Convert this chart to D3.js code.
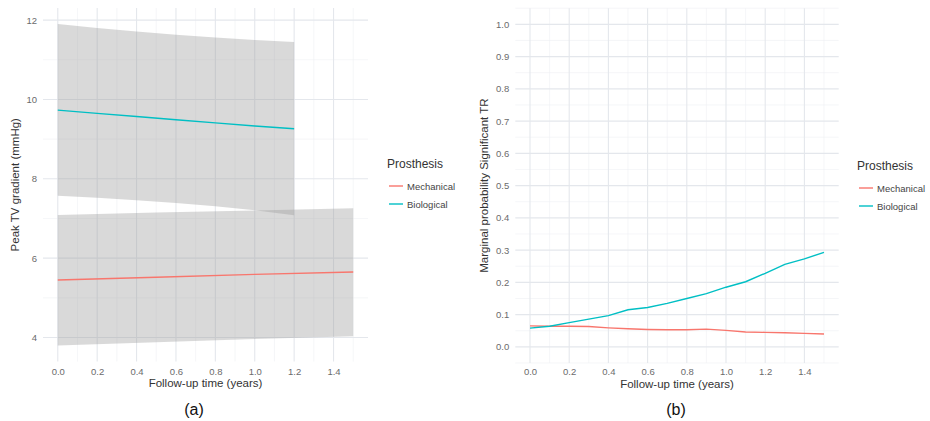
<!DOCTYPE html>
<html>
<head>
<meta charset="utf-8">
<script src="https://cdn.jsdelivr.net/npm/d3@7"></script>
<style>
  body { margin: 0; background: #fff; }
  svg { font-family: "Liberation Sans", Arial, sans-serif; }
</style>
</head>
<body>
<div id="chart"></div>
<script>
// ---- data ----
// panel (a): fitted peak TV gradient with 95% band
const timeMech = [0, 0.5, 1.0, 1.5];
const mechFit = [5.45, 5.52, 5.59, 5.65];
const mechLow = [3.80, 3.88, 3.96, 4.03];
const mechHigh = [7.09, 7.15, 7.20, 7.26];

const timeBio = [0, 0.2, 0.4, 0.6, 0.8, 1.0, 1.2];
const bioFit = [9.73, 9.65, 9.57, 9.49, 9.41, 9.33, 9.26];
const bioLow = [7.57, 7.52, 7.46, 7.39, 7.31, 7.21, 7.08];
const bioHigh = [11.90, 11.80, 11.71, 11.63, 11.56, 11.50, 11.45];

// panel (b): marginal probability of significant TR
const timeProb = [0, 0.1, 0.2, 0.3, 0.4, 0.5, 0.6, 0.7, 0.8, 0.9, 1.0, 1.1, 1.2, 1.3, 1.4, 1.5];
const probMech = [0.065, 0.064, 0.064, 0.063, 0.059, 0.056, 0.054, 0.053, 0.053, 0.055, 0.051, 0.046, 0.045, 0.044, 0.042, 0.040];
const probBio = [0.058, 0.064, 0.075, 0.086, 0.097, 0.115, 0.122, 0.135, 0.150, 0.165, 0.185, 0.202, 0.228, 0.256, 0.273, 0.293];

const xTicks = [0, 0.2, 0.4, 0.6, 0.8, 1.0, 1.2, 1.4];
const xMinor = [0.1, 0.3, 0.5, 0.7, 0.9, 1.1, 1.3, 1.5];
const yTicksA = [4, 6, 8, 10, 12];
const yMinorA = [5, 7, 9, 11];
const yTicksB = [0, 0.1, 0.2, 0.3, 0.4, 0.5, 0.6, 0.7, 0.8, 0.9, 1.0];
const yMinorB = [-0.05, 0.05, 0.15, 0.25, 0.35, 0.45, 0.55, 0.65, 0.75, 0.85, 0.95, 1.05];

const groups = ["Mechanical", "Biological"];
const colors = { Mechanical: "#F8766D", Biological: "#00BFC4" };

const width = 930;
const height = 421;

const svg = d3.select("#chart")
              .append("svg")
              .attr("width", width)
              .attr("height", height)

// draws the grid of one panel
function grid(g, x, y, majX, minX, majY, minY) {
    const [x0, x1] = x.range();
    const [y0, y1] = y.range();
    g.append("g").selectAll("line")
        .data(minY).join("line")
        .attr("x1", x0).attr("x2", x1)
        .attr("y1", d => y(d)).attr("y2", d => y(d))
        .attr("stroke", "#eef0f3").attr("stroke-width", 0.6)
    g.append("g").selectAll("line")
        .data(minX).join("line")
        .attr("y1", y0).attr("y2", y1)
        .attr("x1", d => x(d)).attr("x2", d => x(d))
        .attr("stroke", "#eef0f3").attr("stroke-width", 0.6)
    g.append("g").selectAll("line")
        .data(majY).join("line")
        .attr("x1", x0).attr("x2", x1)
        .attr("y1", d => y(d)).attr("y2", d => y(d))
        .attr("stroke", "#e4e7ec").attr("stroke-width", 1.1)
    g.append("g").selectAll("line")
        .data(majX).join("line")
        .attr("y1", y0).attr("y2", y1)
        .attr("x1", d => x(d)).attr("x2", d => x(d))
        .attr("stroke", "#e4e7ec").attr("stroke-width", 1.1)
}

// axes without lines, ggplot minimal style
function axes(g, x, y, yt, yfmt, xpad) {
    const ax = g.append("g")
        .attr("transform", `translate(0, ${y.range()[0]})`)
        .call(d3.axisBottom(x).tickValues(xTicks).tickFormat(d3.format(".1f")).tickSize(0).tickPadding(xpad))
    const ay = g.append("g")
        .attr("transform", `translate(${x.range()[0]}, 0)`)
        .call(d3.axisLeft(y).tickValues(yt).tickFormat(yfmt).tickSize(0).tickPadding(6))
    for (const a of [ax, ay]) {
        a.select(".domain").remove()
        a.selectAll("text")
            .attr("font-size", 9.5)
            .attr("fill", "#6b6b6b")
            .attr("font-family", "Liberation Sans, Arial, sans-serif")
    }
}

function legend(g, lx, ly) {
    g.append("text")
        .attr("x", lx).attr("y", ly)
        .attr("font-size", 12)
        .attr("fill", "#333")
        .text("Prosthesis")
    groups.forEach((k, i) => {
        const yy = ly + 18 + i * 18;
        g.append("line")
            .attr("x1", lx + 2).attr("x2", lx + 16)
            .attr("y1", yy).attr("y2", yy)
            .attr("stroke", colors[k]).attr("stroke-width", 1.4)
        g.append("text")
            .attr("x", lx + 20).attr("y", yy + 3.5)
            .attr("font-size", 9.5)
            .attr("fill", "#444")
            .text(k)
    })
}

// ---- panel (a) ----
const xa = d3.scaleLinear().domain([-0.075, 1.575]).range([43, 368]);
const ya = d3.scaleLinear().domain([3.395, 12.305]).range([361.5, 8]);
const ga = svg.append("g");
grid(ga, xa, ya, xTicks, xMinor, yTicksA, yMinorA);

const band = (t, lo, hi) => d3.area()
    .x((d, i) => xa(t[i]))
    .y0((d, i) => ya(lo[i]))
    .y1((d, i) => ya(hi[i]))(t);
const fitLine = (t, v) => d3.line()
    .x((d, i) => xa(t[i]))
    .y((d, i) => ya(v[i]))(t);

ga.append("path").attr("d", band(timeMech, mechLow, mechHigh))
    .attr("fill", "#9a9a9a").attr("opacity", 0.38)
ga.append("path").attr("d", band(timeBio, bioLow, bioHigh))
    .attr("fill", "#9a9a9a").attr("opacity", 0.38)
ga.append("path").attr("d", fitLine(timeMech, mechFit))
    .attr("fill", "none").attr("stroke", colors.Mechanical).attr("stroke-width", 1.4)
ga.append("path").attr("d", fitLine(timeBio, bioFit))
    .attr("fill", "none").attr("stroke", colors.Biological).attr("stroke-width", 1.4)

axes(ga, xa, ya, yTicksA, d3.format("d"), 6.3);

ga.append("text")
    .attr("x", (43 + 368) / 2).attr("y", 387)
    .attr("text-anchor", "middle").attr("font-size", 11.5).attr("fill", "#333")
    .text("Follow-up time (years)")
ga.append("text")
    .attr("transform", `translate(19, ${(8 + 361.5) / 2}) rotate(-90)`)
    .attr("text-anchor", "middle").attr("font-size", 11.5).attr("fill", "#333")
    .text("Peak TV gradient (mmHg)")
ga.append("text")
    .attr("x", 194).attr("y", 415)
    .attr("text-anchor", "middle").attr("font-size", 16).attr("fill", "#111")
    .text("(a)")
legend(ga, 387, 168);

// ---- panel (b) ----
const xb = d3.scaleLinear().domain([-0.075, 1.575]).range([515.3, 838.7]);
const yb = d3.scaleLinear().domain([-0.05, 1.05]).range([363, 8.2]);
const gb = svg.append("g");
grid(gb, xb, yb, xTicks, xMinor, yTicksB, yMinorB);

const probLine = v => d3.line()
    .x((d, i) => xb(timeProb[i]))
    .y((d, i) => yb(v[i]))(timeProb);

gb.append("path").attr("d", probLine(probMech))
    .attr("fill", "none").attr("stroke", colors.Mechanical).attr("stroke-width", 1.4)
gb.append("path").attr("d", probLine(probBio))
    .attr("fill", "none").attr("stroke", colors.Biological).attr("stroke-width", 1.4)

axes(gb, xb, yb, yTicksB, d3.format(".1f"), 5.5);

gb.append("text")
    .attr("x", (515.3 + 838.7) / 2).attr("y", 388)
    .attr("text-anchor", "middle").attr("font-size", 11.5).attr("fill", "#333")
    .text("Follow-up time (years)")
gb.append("text")
    .attr("transform", `translate(488, ${(8.2 + 363) / 2}) rotate(-90)`)
    .attr("text-anchor", "middle").attr("font-size", 11.5).attr("fill", "#333")
    .text("Marginal probability Significant TR")
gb.append("text")
    .attr("x", 676).attr("y", 415)
    .attr("text-anchor", "middle").attr("font-size", 16).attr("fill", "#111")
    .text("(b)")
legend(gb, 857, 170);
</script>
</body>
</html>
